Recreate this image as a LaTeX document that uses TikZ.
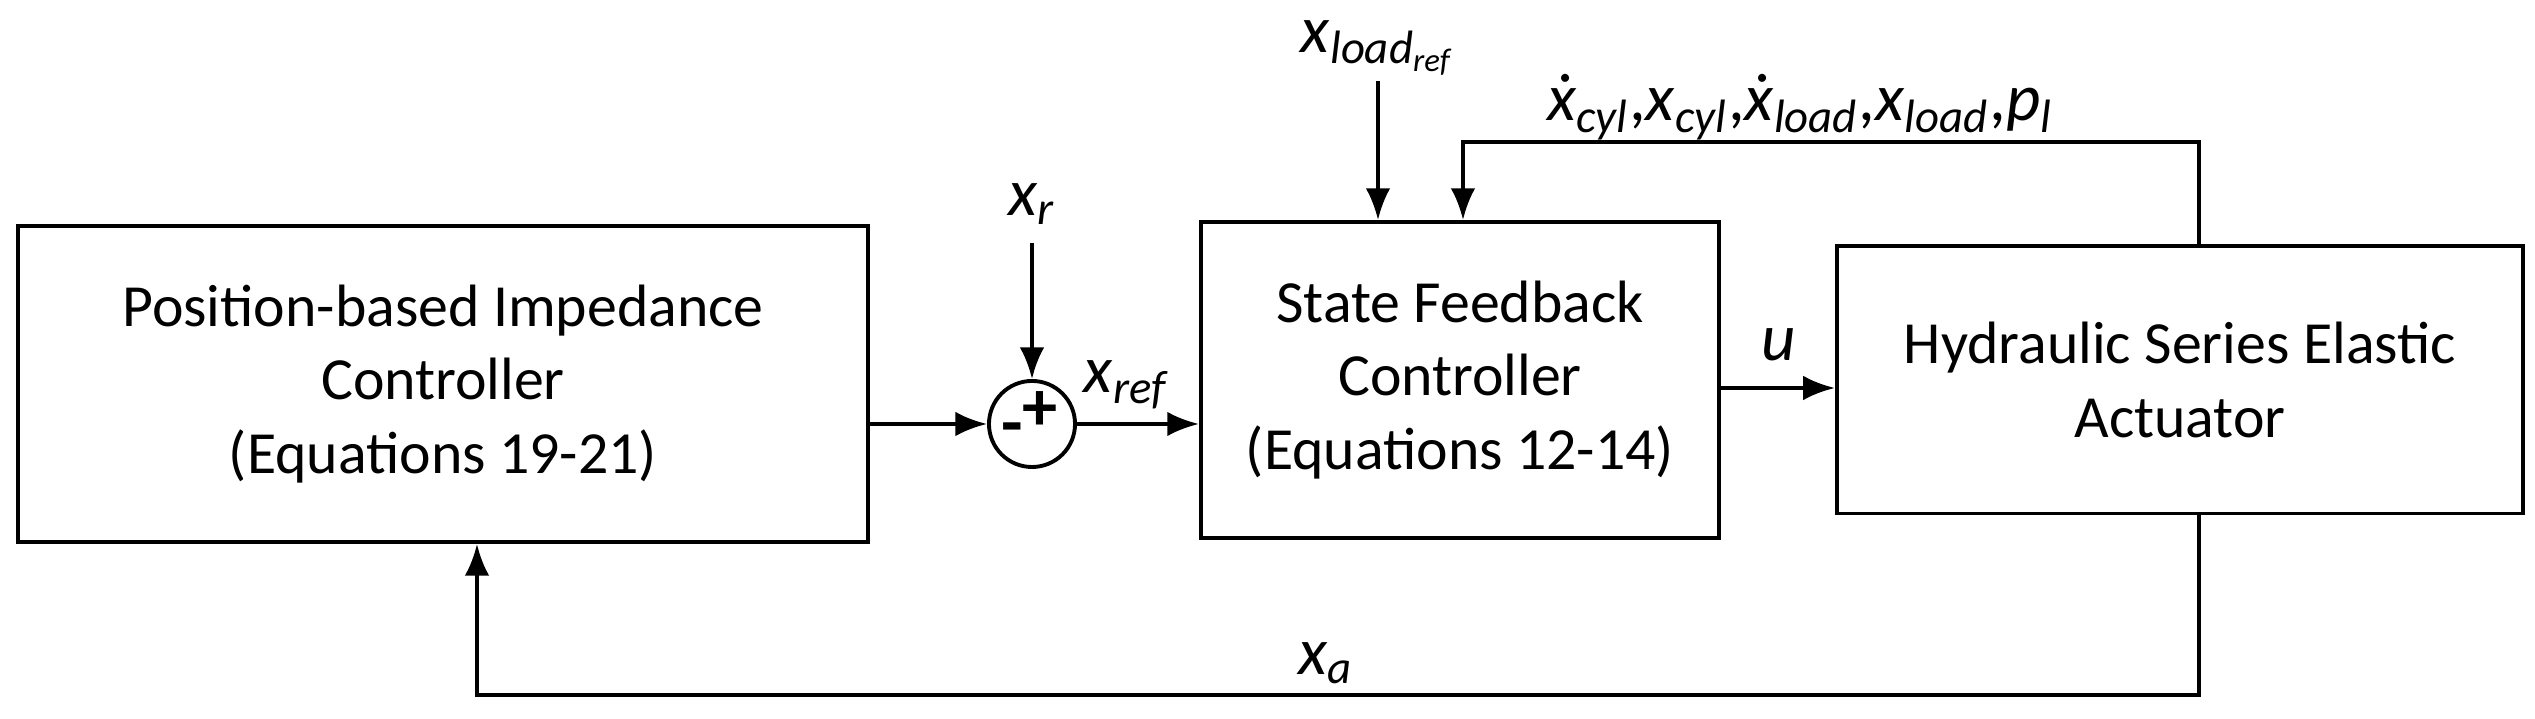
\documentclass[tikz,border=0pt]{standalone}
\usepackage{fontspec}
\setmainfont{Carlito}
\usetikzlibrary{positioning,arrows.meta}
\newcommand{\sig}[2]{\textit{#1}\textsubscript{\textit{#2}}}
\tikzset{
	blk/.style = {draw, line width=1.1pt, align=center, font=\fontsize{17}{21}\selectfont},
	sig/.style = {font=\fontsize{19}{21}\selectfont},
	con/.style = {line width=1.1pt, -{Latex[length=9pt,width=7pt]}}
}

\begin{document}
\begin{tikzpicture}[x=0.01cm, y=0.01cm]
\useasboundingbox (0, 0) rectangle (2535, 719);

\node[blk, minimum width=8.49cm, minimum height=3.16cm] at (443, 335) (imp) {Position-based Impedance\\Controller\\(Equations 19-21)};
\node[draw, line width=1.1pt, circle, minimum size=0.86cm, inner sep=0pt] at (1032, 295) (sum) {};
\node[font=\fontsize{20}{20}\selectfont\bfseries] at (1040, 308) (plus) {+};
\node[font=\fontsize{20}{20}\selectfont\bfseries] at (1012, 284) (minus) {-};
\node[blk, minimum width=5.18cm, minimum height=3.16cm] at (1460, 339) (sf) {State Feedback\\Controller\\(Equations 12-14)};
\node[blk, minimum width=6.86cm, minimum height=2.67cm] at (2180, 339) (hsea) {Hydraulic Series Elastic\\Actuator};

\coordinate (xrin) at (1032, 476);
\coordinate (ldin) at (1378, 638);
\coordinate (fbup) at (2199, 577);
\coordinate (fbleft) at (1463, 577);
\coordinate (xadown) at (2199, 24);
\coordinate (xaleft) at (477, 24);

\node[sig] at (1032, 515) (xr) {\sig{x}{r}};
\node[sig] at (1378, 671) (xld) {\textit{x}\textsubscript{\textit{load}\textsubscript{\textit{ref}}}};
\node[sig] at (1800, 612) (fb) {\sig{\.x}{cyl},\sig{x}{cyl},\sig{\.x}{load},\sig{x}{load},\sig{p}{l}};
\node[sig] at (1127, 334) (xref) {\sig{x}{ref}};
\node[sig] at (1779, 374) (u) {\textit{u}};
\node[sig] at (1326, 56) (xa) {\sig{x}{a}};

\draw[con] (imp.east |- sum) -- (sum.west);
\draw[con] (xrin) -- (sum.north);
\draw[con] (sum.east) -- (sum -| sf.west);
\draw[con] (ldin) -- (ldin |- sf.north);
\draw[con] (fbup |- hsea.north) -- (fbup) -- (fbleft) -- (fbleft |- sf.north);
\draw[con] (sf.east |- 0, 331) -- (hsea.west |- 0, 331);
\draw[con] (xadown |- hsea.south) -- (xadown) -- (xaleft) -- (xaleft |- imp.south);

\end{tikzpicture}
\end{document}
